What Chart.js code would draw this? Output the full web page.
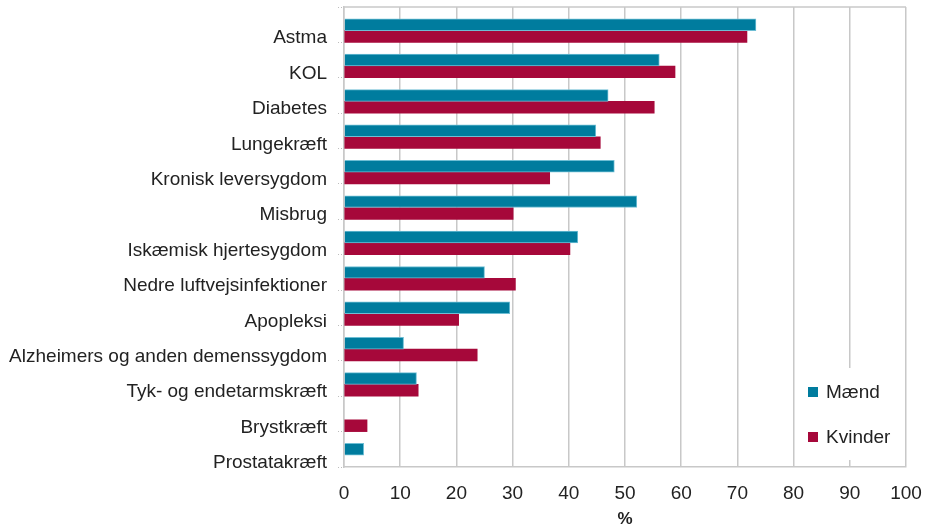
<!DOCTYPE html>
<html>
<head>
<meta charset="utf-8">
<script src="https://cdn.jsdelivr.net/npm/chart.js@4.4.1/dist/chart.umd.min.js"></script>
<style>
  html, body { margin: 0; padding: 0; background: #fff; }
  #wrap { width: 927px; height: 528px; }
</style>
</head>
<body>
<div id="wrap"><canvas id="myChart" width="927" height="528"></canvas></div>
<script>
const categories = [
    'Astma', 'KOL', 'Diabetes', 'Lungekræft', 'Kronisk leversygdom', 'Misbrug',
    'Iskæmisk hjertesygdom', 'Nedre luftvejsinfektioner', 'Apopleksi',
    'Alzheimers og anden demenssygdom', 'Tyk- og endetarmskræft', 'Brystkræft', 'Prostatakræft'
]
const maend = [73.3, 56.1, 47.0, 44.8, 48.1, 52.1, 41.6, 25.0, 29.5, 10.6, 12.9, null, 3.5]
const kvinder = [71.7, 58.9, 55.2, 45.6, 36.6, 30.1, 40.2, 30.5, 20.4, 23.7, 13.2, 4.1, null]
const xTicks = [0, 10, 20, 30, 40, 50, 60, 70, 80, 90, 100]

const TEAL = 'rgb(0, 124, 158)'
const RED = 'rgb(166, 8, 58)'
const TXT = '#222222'
const GRID = '#c8c8c8'
const FONT = "'Liberation Sans', Arial, sans-serif"

Chart.defaults.font.family = FONT
Chart.defaults.font.size = 19
Chart.defaults.color = TXT

// frame on top + legend box inside the plot (like the Excel original)
const frameAndLegend = {
    id: 'frameAndLegend',
    afterDatasetsDraw(chart) {
        const {ctx, chartArea: a} = chart
        ctx.save()
        ctx.strokeStyle = GRID
        ctx.lineWidth = 1.5
        ctx.beginPath()
        ctx.moveTo(a.left, a.top)
        ctx.lineTo(a.right, a.top)
        ctx.stroke()

        const bx = a.right - 104, by = a.top + 361
        ctx.fillStyle = '#fff'
        ctx.fillRect(bx, by, 102, 92)
        const items = chart.data.datasets.filter(d => d.label)
        ctx.font = '19px ' + FONT
        ctx.textBaseline = 'middle'
        items.forEach((d, i) => {
            const y = by + 24 + i * 45
            ctx.fillStyle = d.backgroundColor
            ctx.fillRect(bx + 6, y - 5, 10, 10)
            ctx.fillStyle = TXT
            ctx.fillText(d.label, bx + 24, y + 1)
        })
        ctx.restore()
    }
}

const noPad = s => { s.paddingTop = 0; s.paddingBottom = 0; s.paddingLeft = 0; s.paddingRight = 0 }

const ctx = document.getElementById('myChart')

const chart = new Chart(ctx, {
    type: 'bar',
    data: {
        labels: categories,
        datasets: [
            {
                // empty slot: Excel leaves the gap above each pair of bars
                label: '',
                data: categories.map(() => null),
                backgroundColor: 'rgba(0,0,0,0)'
            },
            {
                label: 'Mænd',
                data: maend,
                backgroundColor: TEAL,
                borderColor: 'rgb(110, 190, 212)',
                borderWidth: 1
            },
            {
                label: 'Kvinder',
                data: kvinder,
                backgroundColor: RED,
                borderWidth: 0
            }
        ]
    },
    options: {
        indexAxis: 'y',
        responsive: false,
        animation: false,
        categoryPercentage: 1.0,
        barPercentage: 1.0,
        layout: {
            padding: {top: 7, right: 21, left: 0, bottom: 0}
        },
        plugins: {
            legend: {display: false},
            tooltip: {enabled: false}
        },
        scales: {
            x: {
                type: 'linear',
                min: 0,
                max: 100,
                afterBuildTicks: s => { s.ticks = xTicks.map(v => ({value: v})) },
                afterFit: s => { s.height = 61; noPad(s) },
                grid: {color: GRID, lineWidth: 1.5, drawTicks: false},
                border: {color: GRID, width: 1.5},
                ticks: {padding: 15, color: TXT},
                title: {
                    display: true,
                    text: '%',
                    font: {size: 17, weight: 'bold', lineHeight: 1},
                    padding: 0,
                    color: TXT
                }
            },
            y: {
                afterFit: s => { s.width = 344; noPad(s) },
                grid: {
                    drawOnChartArea: false,
                    tickLength: 6,
                    color: '#bdbdbd',
                    tickBorderDash: [1, 2]
                },
                border: {color: GRID, width: 1.5},
                ticks: {padding: 11, labelOffset: 13.5, color: TXT, autoSkip: false}
            }
        }
    },
    plugins: [frameAndLegend]
});
</script>
</body>
</html>
